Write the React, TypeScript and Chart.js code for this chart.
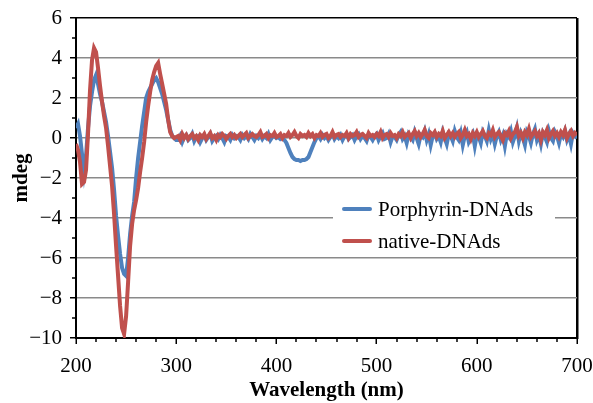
import React, { useEffect, useRef } from "react";
import { Chart, registerables } from "chart.js";

Chart.register(...registerables);

// Wavelength grid: 200..700 nm, every 2 nm
const wavelengths: number[] = Array.from({ length: 251 }, (_, i) => 200 + 2 * i);

const seriesNames = ["Porphyrin-DNAds", "native-DNAds"];
const seriesColors = ["#4f81bd", "#c0504d"];

// Porphyrin-DNAds (mdeg)
const porphyrin: number[] = [
  // 200-300
  0.5, 0.7, 0.1, -0.8, -1.7, -0.9, 0.5, 1.6, 2.3, 2.9,
  3.15, 2.7, 2.2, 1.8, 1.3, 0.8, 0.1, -0.7, -1.5, -2.6,
  -3.9, -4.9, -5.8, -6.5, -6.8, -6.9, -6.0, -4.8, -3.9, -3.2,
  -2.0, -1.0, -0.2, 0.6, 1.3, 2.0, 2.3, 2.5, 2.7, 2.9,
  3.0, 2.8, 2.5, 2.2, 1.8, 1.4, 0.9, 0.4, 0.1, 0.0,
  -0.1,
  // 302-700
  -0.1, 0.1, -0.2, 0.05, 0.15, -0.1, 0.0, 0.2, -0.15, 0.05,
  0.1, -0.2, 0.0, 0.15, -0.1, 0.05, 0.2, -0.15, 0.0, 0.1,
  -0.05, 0.15, 0.0, -0.2, 0.1, 0.05, -0.1, 0.15, 0.0, 0.1,
  0.05, -0.1, 0.15, 0.0, 0.1, -0.05, 0.2, 0.05, -0.1, 0.1,
  0.0, 0.15, -0.05, 0.1, 0.0, 0.2, -0.1, 0.05, 0.1, 0.0,
  0.05, -0.05, 0.0, -0.1, -0.25, -0.5, -0.75, -0.95, -1.05, -1.1,
  -1.1, -1.15, -1.1, -1.1, -1.05, -0.95, -0.7, -0.45, -0.2, 0.0,
  0.1, -0.05, 0.15, 0.0, 0.1, -0.1, 0.05, 0.2, -0.05, 0.1,
  0.0, 0.15, -0.1, 0.1, 0.2, -0.05, 0.05, 0.15, -0.1, 0.1,
  0.2, -0.05, 0.1, 0.0, -0.15, 0.15, 0.05, -0.1, 0.1, 0.2,
  -0.1, 0.1, 0.25, -0.05, 0.0, 0.2, -0.2, 0.1, 0.05, -0.1,
  0.15, 0.3, -0.05, 0.1, -0.25, 0.2, 0.05, -0.1, 0.3, 0.0,
  -0.3, 0.15, 0.05, 0.35, -0.1, 0.2, -0.35, 0.1, 0.25, -0.05,
  0.1, -0.2, 0.3, 0.0, -0.3, 0.2, 0.1, -0.15, 0.35, 0.05,
  -0.1, 0.25, -0.35, 0.1, 0.3, -0.2, 0.0, 0.2, -0.4, 0.15,
  0.05, -0.25, 0.3, 0.1, -0.15, 0.4, -0.05, 0.2, -0.3, 0.1,
  0.3, -0.1, 0.15, -0.4, 0.2, 0.05, 0.35, -0.2, 0.1, 0.5,
  -0.15, 0.25, 0.0, -0.35, 0.3, 0.1, -0.25, 0.2, 0.45, -0.1,
  0.15, -0.3, 0.25, 0.05, -0.2, 0.35, 0.0, -0.15, 0.3, 0.1,
  -0.25, 0.2, 0.05, 0.35, -0.1, 0.15, -0.3, 0.25, 0.1, 0.0,
];

// native-DNAds (mdeg)
const native: number[] = [
  // 200-300
  -0.3, -0.6, -1.2, -2.3, -2.2, -1.6, 0.2, 2.4, 3.9, 4.5,
  4.3, 3.5, 2.6, 1.8, 1.1, 0.5, -0.4, -1.4, -2.4, -3.8,
  -5.4, -6.9, -8.4, -9.5, -9.8, -8.9, -7.2, -5.4, -4.3, -3.6,
  -3.1, -2.5, -1.7, -1.0, -0.2, 0.8, 1.6, 2.3, 2.9, 3.3,
  3.6, 3.75, 3.2, 2.7, 2.2, 1.7, 0.9, 0.3, 0.1, 0.0,
  0.05,
  // 302-700
  0.1, -0.1, 0.2, 0.0, 0.15, -0.05, 0.1, 0.2, 0.0, 0.1,
  -0.1, 0.15, 0.05, 0.2, -0.05, 0.1, 0.25, 0.0, 0.1, -0.1,
  0.15, 0.05, 0.2, 0.1, -0.05, 0.1, 0.2, 0.05, 0.15, 0.0,
  0.1, 0.2, 0.05, 0.15, 0.25, 0.0, 0.1, 0.2, 0.1, 0.05,
  0.15, 0.3, 0.05, 0.1, 0.2, 0.0, 0.15, 0.1, 0.25, 0.05,
  0.1, 0.2, 0.0, 0.15, 0.1, 0.25, 0.05, 0.15, 0.3, 0.1,
  0.0, 0.2, 0.1, 0.15, 0.05, 0.25, 0.1, 0.2, 0.0, 0.15,
  0.1, 0.25, 0.05, 0.15, 0.2, 0.0, 0.1, 0.3, 0.05, 0.15,
  0.2, 0.05, 0.15, 0.1, 0.25, 0.0, 0.2, 0.1, 0.15, 0.3,
  0.05, 0.15, 0.2, 0.1, 0.0, 0.25, 0.1, 0.15, 0.05, 0.2,
  0.1, 0.3, 0.0, 0.15, 0.2, 0.05, 0.25, 0.1, 0.15, 0.0,
  0.2, 0.1, 0.3, 0.05, 0.15, 0.25, 0.0, 0.2, 0.35, 0.1,
  0.25, 0.05, 0.2, 0.4, 0.1, 0.0, 0.25, 0.15, 0.3, 0.05,
  0.2, 0.1, 0.35, 0.0, 0.15, 0.3, 0.1, 0.25, 0.05, 0.2,
  0.3, 0.0, 0.15, 0.4, 0.1, 0.2, -0.05, 0.25, 0.1, 0.3,
  0.05, 0.2, 0.35, 0.1, 0.0, 0.25, 0.15, 0.4, 0.05, 0.2,
  0.3, 0.1, -0.1, 0.25, 0.15, 0.35, 0.0, 0.2, 0.3, 0.55,
  0.1, 0.25, 0.0, 0.3, 0.15, 0.45, 0.05, 0.2, 0.35, 0.1,
  0.25, -0.1, 0.3, 0.15, 0.4, 0.0, 0.2, 0.35, 0.1, 0.25,
  0.05, 0.3, 0.15, 0.4, 0.0, 0.2, 0.35, 0.1, 0.25, 0.15,
];

const xMin = 200;
const xMax = 700;
const yMin = -10;
const yMax = 6;

const FONT = "'Liberation Serif', 'Times New Roman', serif";

const minorTicksPlugin = {
  id: "minorTicks",
  afterDraw(chart: any) {
    const { ctx, chartArea, scales } = chart;
    const x = scales.x;
    const y = scales.y;
    ctx.save();
    ctx.strokeStyle = "#000";
    ctx.lineWidth = 1.5;
    for (let v = yMin + 1; v < yMax; v += 2) {
      const py = Math.round(y.getPixelForValue(v));
      ctx.beginPath();
      ctx.moveTo(chartArea.left - 4, py);
      ctx.lineTo(chartArea.left, py);
      ctx.stroke();
    }
    for (let v = xMin + 20; v < xMax; v += 20) {
      if (v % 100 === 0) continue;
      const px = Math.round(x.getPixelForValue(v));
      ctx.beginPath();
      ctx.moveTo(px, chartArea.bottom);
      ctx.lineTo(px, chartArea.bottom + 4);
      ctx.stroke();
    }
    ctx.restore();
  },
};

const legendPlugin = {
  id: "insetLegend",
  afterDraw(chart: any) {
    const { ctx, chartArea } = chart;
    const bx = chartArea.left + 257;
    const by = chartArea.top + 180;
    ctx.save();
    ctx.fillStyle = "#fff";
    ctx.fillRect(bx, by, 222, 54);
    ctx.font = `21px ${FONT}`;
    ctx.textBaseline = "middle";
    ctx.textAlign = "left";
    seriesNames.forEach((name, i) => {
      const ly = by + 11 + i * 32;
      ctx.strokeStyle = seriesColors[i];
      ctx.lineWidth = 4;
      ctx.lineCap = "round";
      ctx.beginPath();
      ctx.moveTo(bx + 11, ly);
      ctx.lineTo(bx + 37, ly);
      ctx.stroke();
      ctx.fillStyle = "#000";
      ctx.fillText(name, bx + 45, ly + 1);
    });
    ctx.restore();
  },
};

export default function App() {
  const canvasRef = useRef<HTMLCanvasElement | null>(null);

  useEffect(() => {
    if (!canvasRef.current) return;
    const chart = new Chart(canvasRef.current, {
      type: "line",
      data: {
        datasets: [
          {
            label: seriesNames[0],
            data: wavelengths.map((w, i) => ({ x: w, y: porphyrin[i] })),
            borderColor: seriesColors[0],
            borderWidth: 4,
            pointRadius: 0,
            tension: 0,
            order: 1,
          },
          {
            label: seriesNames[1],
            data: wavelengths.map((w, i) => ({ x: w, y: native[i] })),
            borderColor: seriesColors[1],
            borderWidth: 4,
            pointRadius: 0,
            tension: 0,
            order: 0,
          },
        ],
      },
      options: {
        animation: false,
        responsive: false,
        devicePixelRatio: 1,
        layout: { padding: { top: 18, right: 16, left: 0, bottom: 0 } },
        plugins: {
          legend: { display: false },
          tooltip: { enabled: false },
        },
        scales: {
          x: {
            type: "linear",
            min: xMin,
            max: xMax,
            ticks: {
              stepSize: 100,
              color: "#000",
              padding: 10,
              font: { family: FONT, size: 21 },
              maxRotation: 0,
            },
            grid: {
              color: (c: any) => (c.tick && c.tick.value === xMax ? "#000" : "rgba(0,0,0,0)"),
              lineWidth: 2.5,
              tickColor: "#000",
              tickWidth: 1.5,
              tickLength: 6,
            },
            border: { display: true, color: "#000", width: 2 },
            title: {
              display: true,
              text: "Wavelength (nm)",
              color: "#000",
              font: { family: FONT, size: 21, weight: "bold" },
              padding: { top: 0, bottom: 0 },
            },
            afterFit: (s: any) => {
              s.height = 65;
              s.paddingLeft = 0;
              s.paddingRight = 0;
            },
          },
          y: {
            min: yMin,
            max: yMax,
            ticks: {
              stepSize: 2,
              color: "#000",
              padding: 8,
              font: { family: FONT, size: 21 },
              callback: (v: any) => (Number(v) < 0 ? "\u2212" + Math.abs(Number(v)) : String(v)),
            },
            grid: {
              color: (c: any) => {
                const v = c.tick ? c.tick.value : 0;
                if (v === yMax) return "#000";
                if (v === yMin) return "rgba(0,0,0,0)";
                return "#8a8a8a";
              },
              lineWidth: 1.5,
              tickColor: "#000",
              tickWidth: 1.5,
              tickLength: 6,
            },
            border: { display: true, color: "#000", width: 2 },
            title: {
              display: true,
              text: "mdeg",
              color: "#000",
              font: { family: FONT, size: 21, weight: "bold" },
              padding: { top: 9, bottom: 0 },
            },
            afterFit: (s: any) => {
              s.width = 76;
              s.paddingTop = 0;
              s.paddingBottom = 0;
            },
          },
        },
      },
      plugins: [minorTicksPlugin, legendPlugin],
    });
    return () => chart.destroy();
  }, []);

  return (
    <div style={{ position: "absolute", left: 0, top: 0, width: 593, height: 403, background: "#fff" }}>
      <canvas ref={canvasRef} width={593} height={403} style={{ width: 593, height: 403 }} />
    </div>
  );
}
